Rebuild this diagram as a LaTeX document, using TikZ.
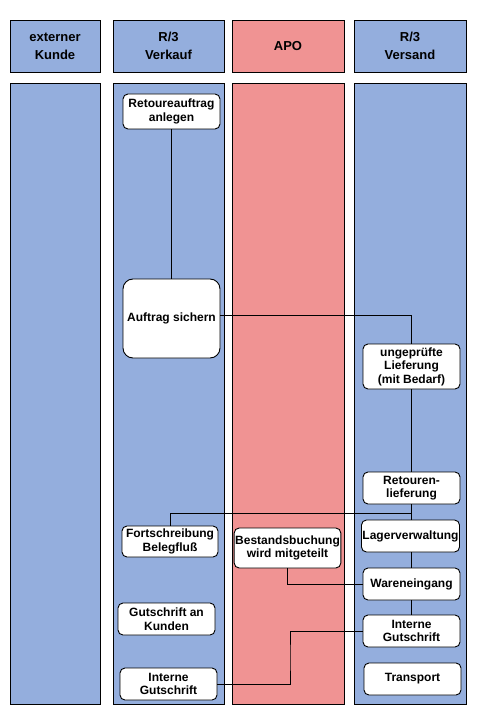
\documentclass[tikz,border=0pt]{standalone}
\usepackage{fontspec}
\setmainfont{Liberation Sans}
\usetikzlibrary{positioning, calc}
\definecolor{LaneBlue}{HTML}{94AEDD}
\definecolor{LaneRed}{HTML}{F09393}

\begin{document}
\begin{tikzpicture}[
      x=1pt, y=-1pt,
      head/.style={draw, line width=0.9pt, font=\fontsize{13}{18}\selectfont\bfseries, align=center, inner sep=0pt, minimum height=52},
      lane/.style={draw, line width=0.9pt, inner sep=0pt, minimum height=621},
      stepbox/.style={draw, fill=white, rounded corners=5pt, line width=0.9pt, font=\fontsize{12}{13.5}\selectfont\bfseries, align=center, inner sep=1pt, minimum width=97, minimum height=32},
      line/.style={draw, line width=0.9pt}
  ]
      \useasboundingbox (0,0) rectangle (479,719);

      % Swimlane headers
      \node[head, fill=LaneBlue, minimum width=90] (h1) at (55,46) {externer\\Kunde};
      \node[head, fill=LaneBlue, minimum width=111] (h2) at (168.5,46) {R/3\\Verkauf};
      \node[head, fill=LaneRed, minimum width=112] (h3) at (288,46) {APO};
      \node[head, fill=LaneBlue, minimum width=112] (h4) at (410,46) {R/3\\Versand};

      % Swimlanes
      \node[lane, fill=LaneBlue, minimum width=90, below=11pt of h1] (l1) {};
      \node[lane, fill=LaneBlue, minimum width=111, below=11pt of h2] (l2) {};
      \node[lane, fill=LaneRed, minimum width=112, below=11pt of h3] (l3) {};
      \node[lane, fill=LaneBlue, minimum width=112, below=11pt of h4] (l4) {};

      % R/3 Verkauf
      \node[stepbox, minimum height=35] (ret) at (171.5,111.5) {Retoureauftrag\\anlegen};
      \node[stepbox, minimum height=79, rounded corners=10pt] (sich) at (171.5,318.5) {Auftrag sichern};
      \node[stepbox, minimum width=96, minimum height=31] (fort) at (170,541.5) {Fortschreibung\\Belegfluß};
      \node[stepbox] (gutk) at (166.5,619) {Gutschrift an\\Kunden};
      \node[stepbox] (igl) at (168.5,684) {Interne\\Gutschrift};

      % APO
      \node[stepbox, minimum width=105, minimum height=40] (best) at (287.5,548) {Bestandsbuchung\\wird mitgeteilt};

      % R/3 Versand
      \node[stepbox, minimum height=45] (ungep) at (411.5,366.5) {ungeprüfte\\Lieferung\\(mit Bedarf)};
      \node[stepbox] (retl) at (411.5,488) {Retouren-\\lieferung};
      \node[stepbox] (lager) at (410.5,536) {Lagerverwaltung};
      \node[stepbox] (waren) at (411.5,584) {Wareneingang};
      \node[stepbox] (igr) at (411.5,631) {Interne\\Gutschrift};
      \node[stepbox] (trans) at (412.5,679) {Transport};

      % Connectors
      \draw[line] (ret) -- (sich);
      \draw[line] ([yshift=3pt]sich.east) -| (ungep.north);
      \draw[line] (ungep) -- (retl);
      \draw[line] (retl.south) -- (retl.south |- lager.north);
      \coordinate (br) at ($(retl.south)!.6!(retl.south |- lager.north)$);
      \draw[line] (br) -| (fort.north);
      \draw[line] (lager.south -| waren.north) -- (waren.north);
      \draw[line] (best.south) |- (waren.west);
      \draw[line] (waren) -- (igr);
      \draw[line] (igl.east) -| ($(igl.east)!.5!(igr.west)$) |- (igr.west);
  \end{tikzpicture}
\end{document}
